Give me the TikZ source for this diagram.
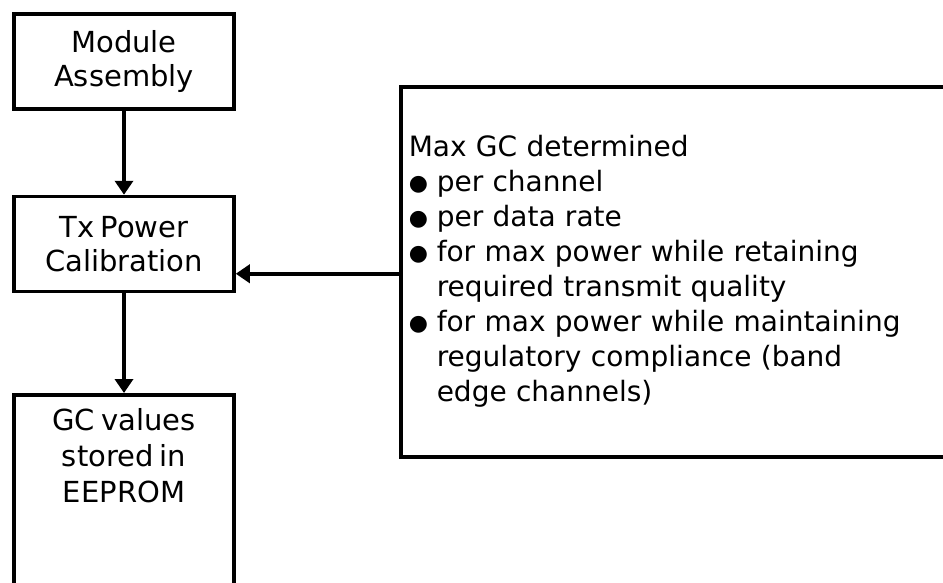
\documentclass[tikz,border=0pt]{standalone}
\usepackage{fontspec}
\setmainfont{DejaVu Sans}[WordSpace=0.65]
\usetikzlibrary{arrows.meta,positioning}
\newcommand{\blt}{\makebox[28pt][l]{\raisebox{1pt}{\fontsize{22}{22}\selectfont ●}}}

\begin{document}
\begin{tikzpicture}[x=1pt,y=-1pt,
  box/.style={draw,line width=3.5pt,minimum width=220pt,minimum height=95pt,align=center,font=\fontsize{29}{34}\selectfont},
  flow/.style={line width=3.5pt,-{Triangle[width=18pt,length=14pt]}}]
  \useasboundingbox (0,0) rectangle (943,582);

  \node[box] (assembly) at (124,61.5) {Module\\Assembly};
  \node[box] (txcal) at (124,244) {Tx Power\\Calibration};
  \node[box,anchor=north,inner ysep=14pt,font=\fontsize{29}{36}\selectfont] (eeprom) at (124,393)
    {\parbox[t][230pt][t]{200pt}{\centering GC values\\stored in\\EEPROM}};

  \node[draw,line width=3.5pt,anchor=north west,minimum height=370pt,text width=560pt,inner xsep=8pt,align=left,
        font=\fontsize{28}{35}\selectfont] (note) at (399,85)
    {Max GC determined\\
     \blt per channel\\
     \blt per data rate\\
     \blt for max power while retaining\\
     \hspace*{28pt}required transmit quality\\
     \blt for max power while maintaining\\
     \hspace*{28pt}regulatory compliance (band\\
     \hspace*{28pt}edge channels)};

  \draw[flow] (assembly) -- (txcal);
  \draw[flow] (txcal) -- (eeprom);
  \draw[flow] ([yshift=-2pt]note.west) -- ([yshift=-2pt]note.west -| txcal.east);
\end{tikzpicture}
\end{document}
